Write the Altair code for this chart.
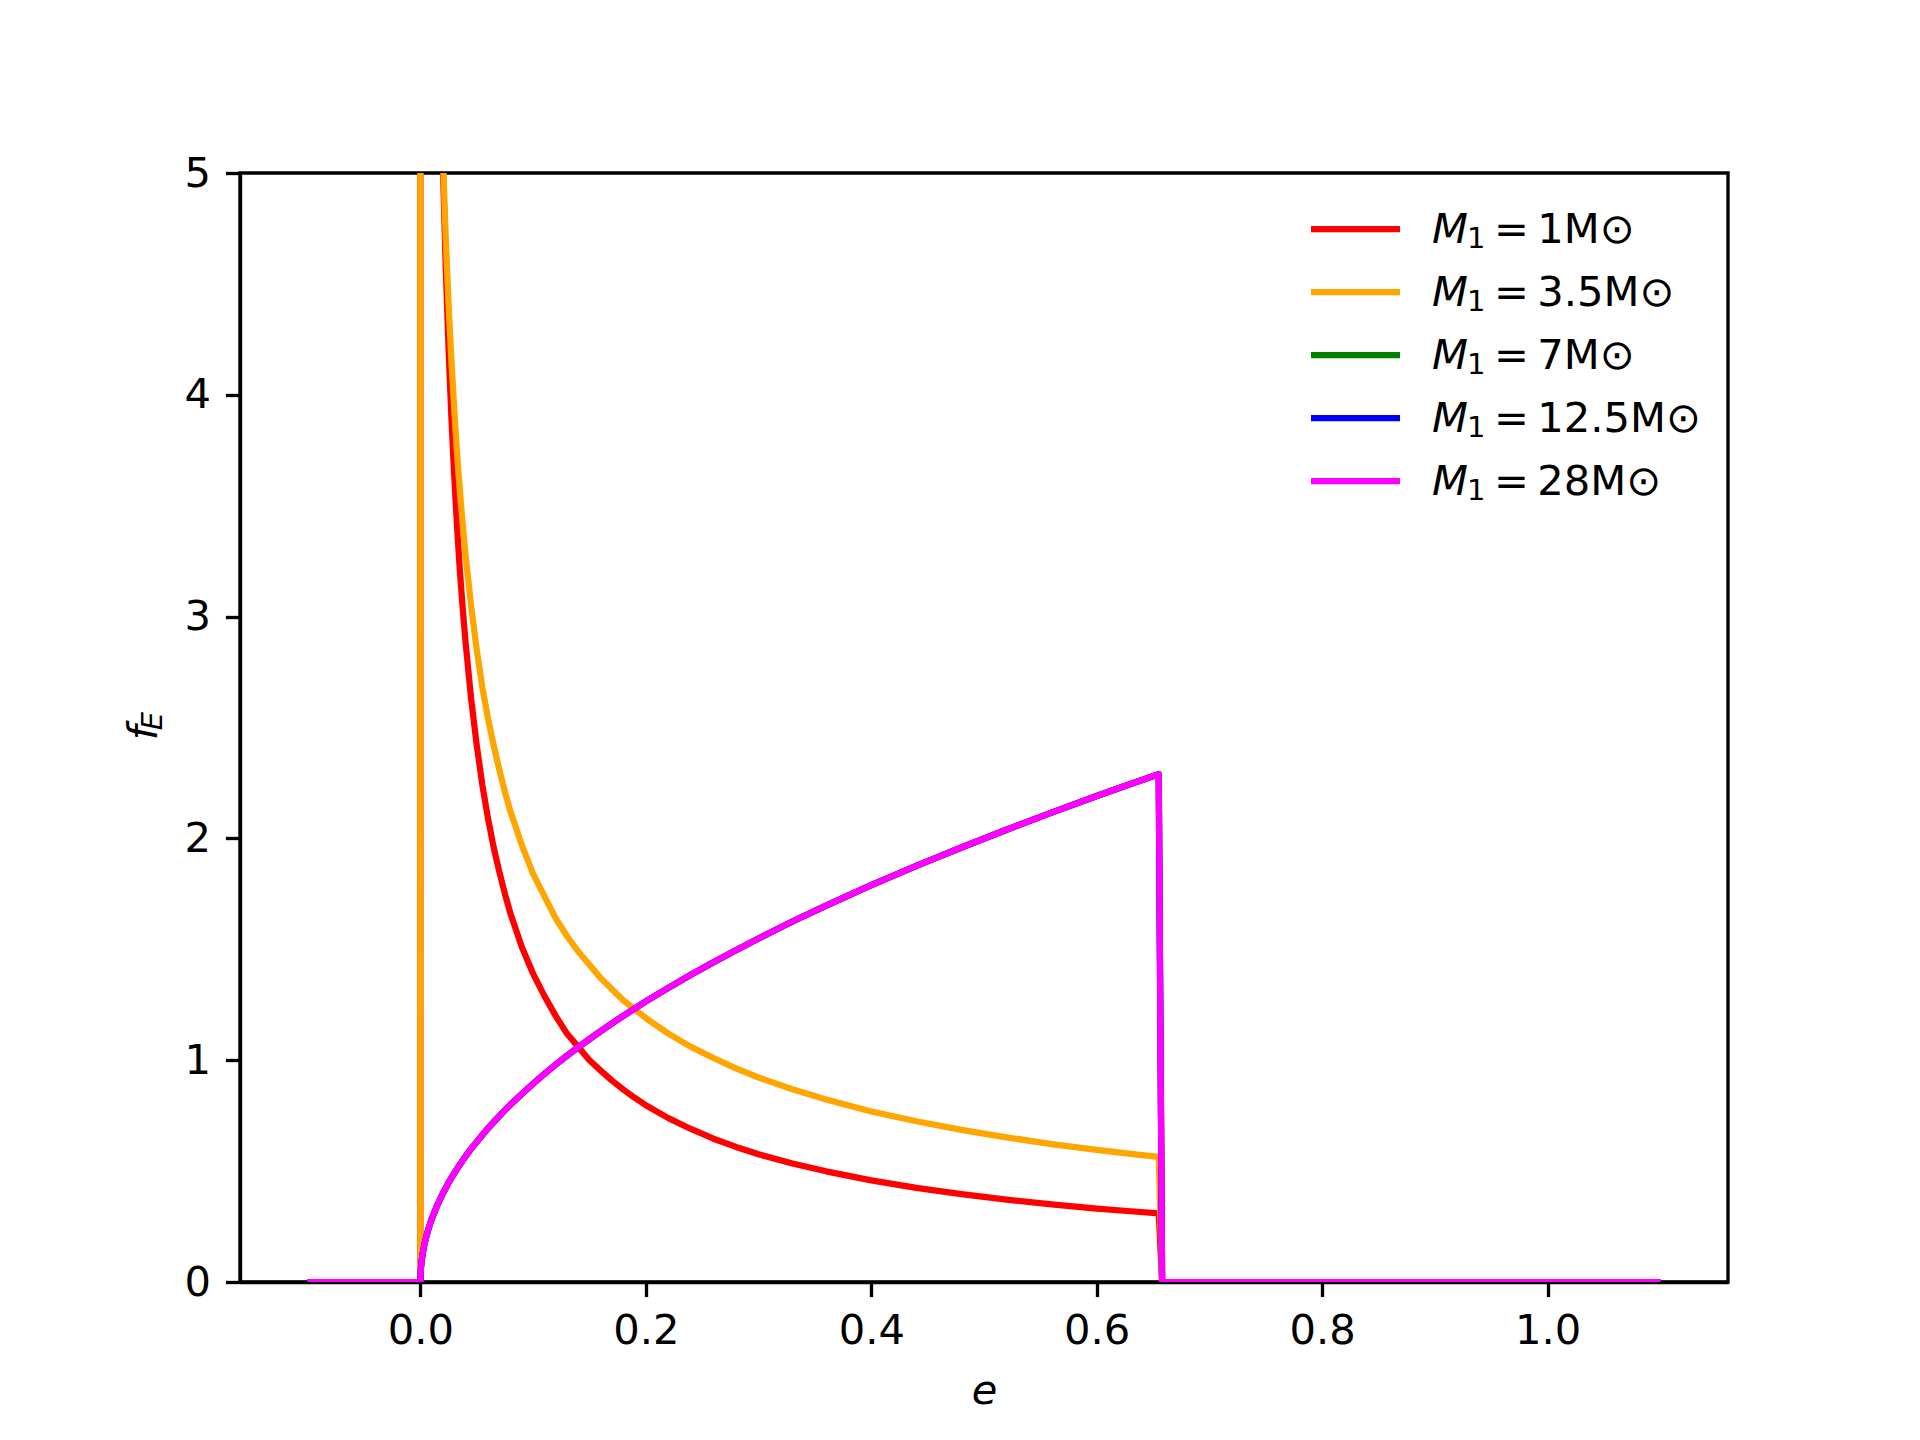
import altair as alt
import pandas as pd

# ---- data ----
e_values = [-0.1, 0.0, 0.0005, 0.001, 0.002, 0.0035, 0.005, 0.0075, 0.01, 0.015,
            0.02, 0.0225, 0.025, 0.0275, 0.03, 0.0325, 0.035, 0.0375, 0.04, 0.045,
            0.05, 0.055, 0.06, 0.065, 0.07, 0.075, 0.08, 0.09, 0.1, 0.11,
            0.12, 0.13, 0.14, 0.15, 0.16, 0.17, 0.18, 0.19, 0.2, 0.22,
            0.24, 0.26, 0.28, 0.3, 0.33, 0.36, 0.4, 0.44, 0.48, 0.52,
            0.56, 0.6, 0.63, 0.655, 0.658, 1.1]

f_m1 = [0, 0, 96.3, 55.2, 31.7, 20.3, 15.2, 11.0, 8.75, 6.33,
        5.03, 4.58, 4.21, 3.90, 3.64, 3.41, 3.21, 3.04, 2.89, 2.63,
        2.42, 2.24, 2.09, 1.96, 1.85, 1.75, 1.66, 1.51, 1.39, 1.29,
        1.20, 1.12, 1.06, 1.00, 0.953, 0.908, 0.868, 0.831, 0.797, 0.739,
        0.690, 0.646, 0.609, 0.576, 0.534, 0.499, 0.458, 0.424, 0.396, 0.371,
        0.350, 0.331, 0.319, 0.309, 0, 0]

f_m35 = [0, 0, 51.9, 33.5, 21.7, 15.2, 12.2, 9.43, 7.86, 6.09,
         5.08, 4.71, 4.41, 4.16, 3.94, 3.74, 3.57, 3.42, 3.28, 3.05,
         2.85, 2.68, 2.54, 2.42, 2.31, 2.21, 2.12, 1.97, 1.84, 1.74,
         1.64, 1.56, 1.49, 1.43, 1.37, 1.32, 1.27, 1.23, 1.19, 1.12,
         1.06, 1.01, 0.963, 0.922, 0.869, 0.823, 0.769, 0.725, 0.686, 0.652,
         0.622, 0.596, 0.578, 0.564, 0, 0]

f_m7 = [0, 0, 0.063, 0.089, 0.126, 0.167, 0.200, 0.245, 0.283, 0.346,
        0.400, 0.424, 0.447, 0.469, 0.490, 0.510, 0.529, 0.548, 0.566, 0.600,
        0.632, 0.663, 0.693, 0.721, 0.748, 0.775, 0.800, 0.848, 0.894, 0.938,
        0.980, 1.020, 1.058, 1.095, 1.131, 1.166, 1.200, 1.233, 1.265, 1.326,
        1.385, 1.442, 1.496, 1.549, 1.625, 1.697, 1.789, 1.876, 1.959, 2.039,
        2.116, 2.191, 2.245, 2.289, 0, 0]

f_m125 = list(f_m7)
f_m28 = list(f_m7)

series_names = ["M1 = 1", "M1 = 3.5", "M1 = 7", "M1 = 12.5", "M1 = 28"]
legend_rest = ["=\u20091M\u2299", "=\u20093.5M\u2299", "=\u20097M\u2299",
               "=\u200912.5M\u2299", "=\u200928M\u2299"]
series_colors = ["red", "orange", "green", "blue", "magenta"]
x_ticks = [0.0, 0.2, 0.4, 0.6, 0.8, 1.0]
y_ticks = [0, 1, 2, 3, 4, 5]

# ---- tables ----
rows = []
for name, vals in zip(series_names, [f_m1, f_m35, f_m7, f_m125, f_m28]):
    for i, (e, f) in enumerate(zip(e_values, vals)):
        rows.append({"e": e, "f": f, "series": name, "i": i})
df = pd.DataFrame(rows)

leg_df = pd.DataFrame({"series": series_names, "rest": legend_rest,
                       "M": ["M"] * len(series_names),
                       "sub": ["1"] * len(series_names)})

FS = 41.67
LW = 6.25
AX = 3.33
FONT = "DejaVu Sans"

color_scale = alt.Scale(domain=series_names, range=series_colors)

x_enc = alt.X("e:Q",
              scale=alt.Scale(domain=[-0.16, 1.16], nice=False, zero=False),
              axis=alt.Axis(values=x_ticks, format=".1f", title="e",
                            titleFontStyle="italic", titleFontWeight="normal",
                            titleFontSize=FS, titleFont=FONT, titleColor="black",
                            titleX=744, titleY=121, titleBaseline="alphabetic",
                            titleAlign="center", labelPadding=14))
y_enc = alt.Y("f:Q",
              scale=alt.Scale(domain=[0, 5], nice=False, zero=False),
              axis=alt.Axis(values=y_ticks, format="d", title=None,
                            labelPadding=15))

line_layers = []
for name in series_names:
    line_layers.append(
        alt.Chart(df)
        .transform_filter(alt.datum.series == name)
        .mark_line(clip=True, strokeWidth=LW, strokeJoin="round", strokeCap="butt")
        .encode(x=x_enc, y=y_enc,
                color=alt.Color("series:N", scale=color_scale, legend=None),
                order="i:Q")
    )
lines = alt.layer(*line_layers)

leg_y = alt.Y("series:N",
              scale=alt.Scale(type="point", domain=series_names, range=[56, 308], padding=0),
              axis=None)

leg_rule = alt.Chart(leg_df).mark_rule(strokeWidth=LW).encode(
    x=alt.value(1071), x2=alt.value(1160), y=leg_y,
    color=alt.Color("series:N", scale=color_scale, legend=None))
leg_M = alt.Chart(leg_df).mark_text(
    align="left", baseline="alphabetic", dy=14, font=FONT, fontSize=FS,
    fontStyle="italic", color="black").encode(
    x=alt.value(1192), y=leg_y, text="M:N")
leg_sub = alt.Chart(leg_df).mark_text(
    align="left", baseline="alphabetic", dy=19, font=FONT, fontSize=29,
    color="black").encode(
    x=alt.value(1227), y=leg_y, text="sub:N")
leg_rest = alt.Chart(leg_df).mark_text(
    align="left", baseline="alphabetic", dy=14, font=FONT, fontSize=FS,
    color="black").encode(
    x=alt.value(1254), y=leg_y, text="rest:N")
legend = alt.layer(leg_rule, leg_M, leg_sub, leg_rest)

title_f = alt.Chart(pd.DataFrame({"t": ["f"]})).mark_text(
    angle=270, align="center", baseline="alphabetic", font=FONT, fontSize=FS,
    fontStyle="italic", color="black").encode(
    x=alt.value(-83), y=alt.value(560), text="t:N")
title_E = alt.Chart(pd.DataFrame({"t": ["E"]})).mark_text(
    angle=270, align="center", baseline="alphabetic", font=FONT, fontSize=29,
    fontStyle="italic", color="black").encode(
    x=alt.value(-78), y=alt.value(548), text="t:N")

chart = (
    alt.layer(lines, legend, title_f, title_E)
    .resolve_scale(y="independent")
    .properties(width=1488, height=1109,
                padding={"left": 240, "top": 173, "right": 192, "bottom": 158},
                autosize=alt.AutoSizeParams(type="none"),
                background="white")
    .configure_view(stroke="black", strokeWidth=AX)
    .configure_axis(grid=False, domainColor="black", domainWidth=AX,
                    tickColor="black", tickWidth=AX, tickSize=14.6,
                    labelFont=FONT, labelFontSize=FS, labelColor="black",
                    zindex=1)
)

chart.save("out.html", embed_options={"renderer": "svg", "actions": False})
